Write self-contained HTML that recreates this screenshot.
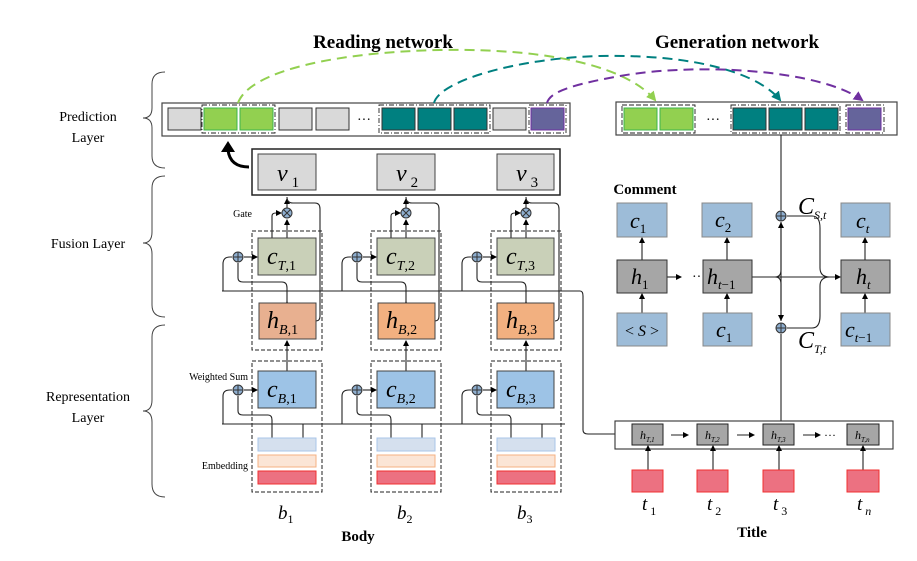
<!DOCTYPE html>
<html><head><meta charset="utf-8"><style>
body{margin:0;background:#fff}
svg{display:block;font-family:"Liberation Serif",serif}
.it{font-style:italic}
</style></head><body>
<svg width="917" height="561" viewBox="0 0 917 561" xmlns="http://www.w3.org/2000/svg">
<defs>
<marker id="a" markerWidth="6" markerHeight="6" refX="5" refY="3" orient="auto" markerUnits="userSpaceOnUse"><path d="M0,0 L6,3 L0,6z" fill="#000"/></marker>
<marker id="ag" markerWidth="10" markerHeight="10" refX="8" refY="5" orient="auto" markerUnits="userSpaceOnUse"><path d="M0,0 L10,5 L0,10z" fill="#92d050"/></marker>
<marker id="at" markerWidth="10" markerHeight="10" refX="8" refY="5" orient="auto" markerUnits="userSpaceOnUse"><path d="M0,0 L10,5 L0,10z" fill="#008080"/></marker>
<marker id="ap" markerWidth="10" markerHeight="10" refX="8" refY="5" orient="auto" markerUnits="userSpaceOnUse"><path d="M0,0 L10,5 L0,10z" fill="#7030a0"/></marker>
<g id="plus"><circle r="5" fill="#8eaecf" stroke="#333" stroke-width="1"/><path d="M-5,0H5M0,-5V5" stroke="#333" stroke-width="1"/></g>
<g id="times"><circle r="5" fill="#8eaecf" stroke="#333" stroke-width="1"/><path d="M-3.5,-3.5L3.5,3.5M-3.5,3.5L3.5,-3.5" stroke="#333" stroke-width="1"/></g>
</defs>

<!-- titles -->
<text x="383" y="48" font-size="19" font-weight="bold" text-anchor="middle">Reading network</text>
<text x="737" y="48" font-size="19" font-weight="bold" text-anchor="middle">Generation network</text>

<!-- braces -->
<g fill="none" stroke="#444" stroke-width="1">
<path d="M165,72 Q152,72 152,84 V108 Q152,118 143,118 Q152,118 152,128 V156 Q152,168 165,168"/>
<path d="M165,176 Q152,176 152,188 V232 Q152,243 143,243 Q152,243 152,254 V305 Q152,317 165,317"/>
<path d="M165,325 Q152,325 152,337 V400 Q152,411 143,411 Q152,411 152,422 V484 Q152,497 165,497"/>
</g>
<g font-size="14" text-anchor="middle">
<text x="88" y="121">Prediction</text><text x="88" y="142">Layer</text>
<text x="88" y="248">Fusion Layer</text>
<text x="88" y="401">Representation</text><text x="88" y="422">Layer</text>
</g>

<!-- left prediction bar -->
<rect x="162" y="103" width="408" height="33" fill="#fff" stroke="#444" stroke-width="1.2"/>
<g stroke="#333" stroke-width="1">
<rect x="168" y="108" width="33" height="22" fill="#d9d9d9"/>
<rect x="204" y="108" width="33" height="22" fill="#92d050" stroke="#3cb44b"/>
<rect x="240" y="108" width="33" height="22" fill="#92d050" stroke="#3cb44b"/>
<rect x="279" y="108" width="33" height="22" fill="#d9d9d9"/>
<rect x="316" y="108" width="33" height="22" fill="#d9d9d9"/>
<rect x="382" y="108" width="33" height="22" fill="#008080"/>
<rect x="418" y="108" width="33" height="22" fill="#008080"/>
<rect x="454" y="108" width="33" height="22" fill="#008080"/>
<rect x="493" y="108" width="33" height="22" fill="#d9d9d9"/>
<rect x="531" y="108" width="33" height="22" fill="#65649b" stroke="#7030a0"/>
</g>
<g fill="none" stroke="#222" stroke-width="0.9" stroke-dasharray="5,2,1,2">
<rect x="202" y="105" width="73" height="28"/>
<rect x="379" y="105" width="111" height="28"/>
<rect x="529" y="105" width="37" height="28"/>
</g>
<text x="364" y="124" font-size="14" text-anchor="middle">···</text>

<!-- right prediction bar -->
<rect x="616" y="102" width="281" height="33" fill="#fff" stroke="#444" stroke-width="1.2"/>
<g stroke="#333" stroke-width="1">
<rect x="624" y="108" width="33" height="22" fill="#92d050" stroke="#3cb44b"/>
<rect x="660" y="108" width="33" height="22" fill="#92d050" stroke="#3cb44b"/>
<rect x="733" y="108" width="33" height="22" fill="#008080"/>
<rect x="769" y="108" width="33" height="22" fill="#008080"/>
<rect x="805" y="108" width="33" height="22" fill="#008080"/>
<rect x="848" y="108" width="33" height="22" fill="#65649b" stroke="#7030a0"/>
</g>
<g fill="none" stroke="#222" stroke-width="0.9" stroke-dasharray="5,2,1,2">
<rect x="622" y="105" width="73" height="28" stroke-dasharray="5,2"/>
<rect x="731" y="105" width="109" height="28"/>
<rect x="846" y="105" width="38" height="28"/>
</g>
<text x="713" y="124" font-size="14" text-anchor="middle">···</text>

<!-- dashed arcs -->
<path d="M238,103 C250,70 340,52 440,50 C560,48 630,70 655,100" fill="none" stroke="#92d050" stroke-width="2" stroke-dasharray="10,6" marker-end="url(#ag)"/>
<path d="M434,103 C440,80 520,58 600,56 C700,54 760,75 780,100" fill="none" stroke="#008080" stroke-width="2" stroke-dasharray="10,6" marker-end="url(#at)"/>
<path d="M547,103 C550,92 570,85 620,76 C700,62 820,70 862,100" fill="none" stroke="#7030a0" stroke-width="2" stroke-dasharray="10,6" marker-end="url(#ap)"/>

<!-- curved bold arrow -->
<path d="M249,167 Q230,167 228,150" fill="none" stroke="#000" stroke-width="3"/>
<path d="M221,152 L228,141 L235,152z" fill="#000"/>

<!-- v box -->
<rect x="252" y="149" width="308" height="46" fill="#fff" stroke="#222" stroke-width="1.5"/>
<g stroke="#444" fill="#d9d9d9">
<rect x="258" y="154" width="58" height="36"/>
<rect x="377" y="154" width="58" height="36"/>
<rect x="497" y="154" width="57" height="36"/>
</g>
<g font-size="24" class="it">
<text x="277" y="181">v<tspan font-size="15" font-style="normal" dx="4" dy="6">1</tspan></text>
<text x="396" y="181">v<tspan font-size="15" font-style="normal" dx="4" dy="6">2</tspan></text>
<text x="516" y="181">v<tspan font-size="15" font-style="normal" dx="4" dy="6">3</tspan></text>
</g>
<text x="252" y="217" font-size="10" text-anchor="end">Gate</text>

<!-- main horizontal lines -->
<path d="M222,291 H580 Q583,291 583,296 V430 Q583,434 588,434 H615" fill="none" stroke="#222" stroke-width="1.1"/>
<path d="M222,424 H565" fill="none" stroke="#222" stroke-width="1.1"/>

<!-- columns -->
<g id="col1">
<rect x="252" y="231" width="70" height="119" fill="none" stroke="#222" stroke-dasharray="4,2"/>
<rect x="252" y="361" width="70" height="131" fill="none" stroke="#222" stroke-dasharray="4,2"/>
<g fill="none" stroke="#222" stroke-width="1.1">
<path d="M287,213 V199" marker-end="url(#a)"/>
<path d="M287,238 V220" marker-end="url(#a)"/>
<path d="M272,238 V216 Q272,213 276,213 H281" marker-end="url(#a)"/>
<path d="M287,197 Q287,203 293,203 H315 Q320,203 320,209 V316 Q320,321 316,321"/>
<path d="M223,291 V264 Q223,257 230,257 H232"/>
<path d="M244,257 H257" marker-end="url(#a)"/>
<path d="M238,263 V278 Q238,282 243,282 H282 Q287,282 287,288 V303"/>
<path d="M287,339 V302" marker-end="url(#a)"/>
<path d="M287,371 V341" marker-end="url(#a)"/>
<path d="M223,424 V396 Q223,390 230,390 H232"/>
<path d="M244,390 H257" marker-end="url(#a)"/>
<path d="M238,396 V411 Q238,415 243,415 H268 Q272,415 272,420 V438"/>
<path d="M303,424 V438"/>
</g>
<use href="#times" x="287" y="213"/>
<use href="#plus" x="238" y="257"/>
<use href="#plus" x="238" y="390"/>
<rect x="258" y="438" width="58" height="13" fill="#d5e0ee" stroke="#a9c6e8"/>
<rect x="258" y="455" width="58" height="12" fill="#fbe5d6" stroke="#f4b183"/>
<rect x="258" y="471" width="58" height="13" fill="#ec7181" stroke="#f03030"/>
</g>
<use href="#col1" x="119"/>
<use href="#col1" x="239"/>

<!-- column boxes -->
<g stroke="#444">
<rect x="258" y="238" width="58" height="37" fill="#c9d0b8"/>
<rect x="377" y="238" width="58" height="37" fill="#c9d0b8"/>
<rect x="497" y="238" width="57" height="37" fill="#c9d0b8"/>
<rect x="259" y="303" width="57" height="36" fill="#e8b090"/>
<rect x="378" y="303" width="57" height="36" fill="#f2b080"/>
<rect x="497" y="303" width="57" height="36" fill="#f2b080"/>
<rect x="258" y="371" width="58" height="37" fill="#9dc3e6"/>
<rect x="377" y="371" width="58" height="37" fill="#9dc3e6"/>
<rect x="497" y="371" width="57" height="37" fill="#9dc3e6"/>
</g>
<g font-size="24" class="it">
<text x="267" y="264">c<tspan font-size="14" dy="6">T</tspan><tspan font-size="14" font-style="normal">,1</tspan></text>
<text x="386" y="264">c<tspan font-size="14" dy="6">T</tspan><tspan font-size="14" font-style="normal">,2</tspan></text>
<text x="506" y="264">c<tspan font-size="14" dy="6">T</tspan><tspan font-size="14" font-style="normal">,3</tspan></text>
<text x="267" y="328">h<tspan font-size="14" dy="6">B</tspan><tspan font-size="14" font-style="normal">,1</tspan></text>
<text x="386" y="328">h<tspan font-size="14" dy="6">B</tspan><tspan font-size="14" font-style="normal">,2</tspan></text>
<text x="506" y="328">h<tspan font-size="14" dy="6">B</tspan><tspan font-size="14" font-style="normal">,3</tspan></text>
<text x="267" y="397">c<tspan font-size="14" dy="6">B</tspan><tspan font-size="14" font-style="normal">,1</tspan></text>
<text x="386" y="397">c<tspan font-size="14" dy="6">B</tspan><tspan font-size="14" font-style="normal">,2</tspan></text>
<text x="506" y="397">c<tspan font-size="14" dy="6">B</tspan><tspan font-size="14" font-style="normal">,3</tspan></text>
</g>
<text x="248" y="380" font-size="10" text-anchor="end">Weighted Sum</text>
<text x="248" y="469" font-size="10" text-anchor="end">Embedding</text>
<g font-size="19" class="it">
<text x="278" y="519">b<tspan font-size="12" font-style="normal" dy="4">1</tspan></text>
<text x="397" y="519">b<tspan font-size="12" font-style="normal" dy="4">2</tspan></text>
<text x="517" y="519">b<tspan font-size="12" font-style="normal" dy="4">3</tspan></text>
</g>
<text x="358" y="541" font-size="15" font-weight="bold" text-anchor="middle">Body</text>

<!-- generation network -->
<text x="645" y="194" font-size="15" font-weight="bold" text-anchor="middle">Comment</text>
<g fill="none" stroke="#222" stroke-width="1.1">
<path d="M781,135 V210"/>
<path d="M781,222 V321"/>
<path d="M781,334 V421"/>
<path d="M752,277 H775 Q781,277 781,270 V223" marker-end="url(#a)"/>
<path d="M775,277 Q781,277 781,284 V320" marker-end="url(#a)"/>
<path d="M752,277 H840" marker-end="url(#a)"/>
<path d="M787,216 H812 Q820,216 820,228 V268 Q820,277 830,277"/>
<path d="M787,328 H812 Q820,328 820,316 V286 Q820,277 830,277"/>
<path d="M642,260 V238" marker-end="url(#a)"/>
<path d="M642,313 V294" marker-end="url(#a)"/>
<path d="M727,260 V238" marker-end="url(#a)"/>
<path d="M727,313 V294" marker-end="url(#a)"/>
<path d="M865,260 V238" marker-end="url(#a)"/>
<path d="M865,313 V294" marker-end="url(#a)"/>
<path d="M667,277 H681" marker-end="url(#a)"/>
</g>
<text x="692" y="281" font-size="14">··</text>
<use href="#plus" x="781" y="216"/>
<use href="#plus" x="781" y="328"/>
<g stroke="#888" fill="#9dbcd8">
<rect x="617" y="203" width="50" height="34"/>
<rect x="702" y="203" width="50" height="34"/>
<rect x="841" y="203" width="49" height="34"/>
<rect x="617" y="313" width="50" height="33"/>
<rect x="703" y="313" width="49" height="33"/>
<rect x="841" y="313" width="49" height="33"/>
</g>
<g stroke="#333" fill="#a6a6a6">
<rect x="617" y="260" width="50" height="33"/>
<rect x="703" y="260" width="49" height="33"/>
<rect x="841" y="260" width="49" height="33"/>
</g>
<g font-size="22" class="it">
<text x="630" y="228">c<tspan font-size="13" font-style="normal" dy="5">1</tspan></text>
<text x="715" y="227">c<tspan font-size="13" font-style="normal" dy="5">2</tspan></text>
<text x="856" y="228">c<tspan font-size="13" dy="5">t</tspan></text>
<text x="631" y="284">h<tspan font-size="13" font-style="normal" dy="5">1</tspan></text>
<text x="707" y="284">h<tspan font-size="13" dy="5">t</tspan><tspan font-size="13" font-style="normal">−1</tspan></text>
<text x="856" y="284">h<tspan font-size="13" dy="5">t</tspan></text>
<text x="716" y="337">c<tspan font-size="13" font-style="normal" dy="5">1</tspan></text>
<text x="845" y="337">c<tspan font-size="13" dy="5">t</tspan><tspan font-size="13" font-style="normal">−1</tspan></text>
</g>
<text x="642" y="336" font-size="16" text-anchor="middle">&lt; <tspan class="it">S</tspan> &gt;</text>
<g font-size="24" class="it">
<text x="798" y="214">C<tspan font-size="12" dy="5">S</tspan><tspan font-size="12">,t</tspan></text>
<text x="798" y="348">C<tspan font-size="12" dy="5">T</tspan><tspan font-size="12">,t</tspan></text>
</g>

<!-- title bar -->
<rect x="615" y="421" width="278" height="28" fill="#fff" stroke="#333" stroke-width="1.1"/>
<g stroke="#222" fill="#a6a6a6">
<rect x="632" y="424" width="31" height="21"/>
<rect x="697" y="424" width="31" height="21"/>
<rect x="763" y="424" width="31" height="21"/>
<rect x="847" y="424" width="32" height="21"/>
</g>
<g fill="none" stroke="#222" stroke-width="1.1">
<path d="M671,435 H688" marker-end="url(#a)"/>
<path d="M737,435 H754" marker-end="url(#a)"/>
<path d="M803,435 H820" marker-end="url(#a)"/>
<path d="M648,470 V446" marker-end="url(#a)"/>
<path d="M713,470 V446" marker-end="url(#a)"/>
<path d="M779,470 V446" marker-end="url(#a)"/>
<path d="M863,470 V446" marker-end="url(#a)"/>
</g>
<text x="824" y="439" font-size="12">···</text>
<g font-size="12" class="it">
<text x="640" y="439">h<tspan font-size="7" dy="3">T,1</tspan></text>
<text x="705" y="439">h<tspan font-size="7" dy="3">T,2</tspan></text>
<text x="771" y="439">h<tspan font-size="7" dy="3">T,3</tspan></text>
<text x="855" y="439">h<tspan font-size="7" dy="3">T,n</tspan></text>
</g>
<g fill="#ec7181" stroke="#f03030">
<rect x="632" y="470" width="31" height="22"/>
<rect x="697" y="470" width="31" height="22"/>
<rect x="763" y="470" width="31" height="22"/>
<rect x="847" y="470" width="32" height="22"/>
</g>
<g font-size="19" class="it">
<text x="642" y="510">t<tspan font-size="12" font-style="normal" dy="5" dx="3">1</tspan></text>
<text x="707" y="510">t<tspan font-size="12" font-style="normal" dy="5" dx="3">2</tspan></text>
<text x="773" y="510">t<tspan font-size="12" font-style="normal" dy="5" dx="3">3</tspan></text>
<text x="857" y="510">t<tspan font-size="12" dy="5" dx="3">n</tspan></text>
</g>
<text x="752" y="537" font-size="15" font-weight="bold" text-anchor="middle">Title</text>
</svg>
</body></html>
